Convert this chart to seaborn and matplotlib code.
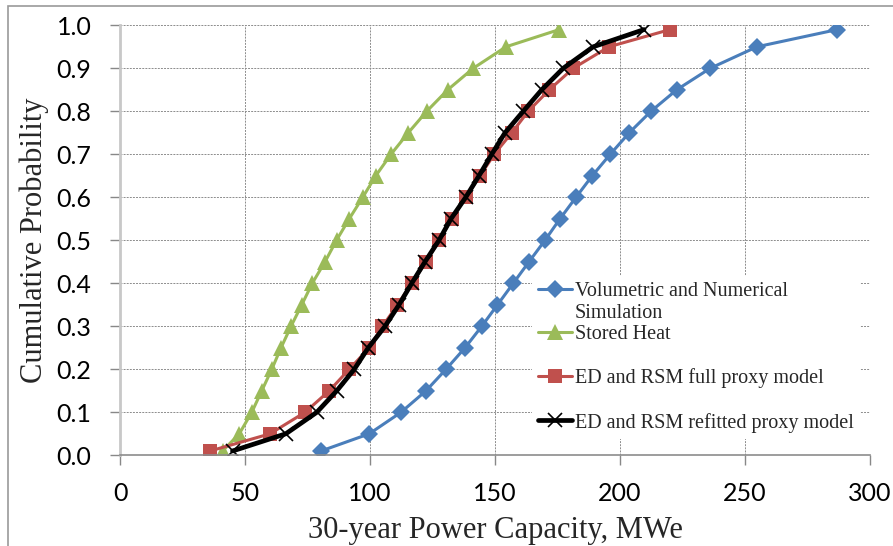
import matplotlib
matplotlib.use("Agg")
import matplotlib.pyplot as plt
import seaborn as sns
import pandas as pd
from matplotlib.patches import Rectangle

# cumulative probability levels (same for every curve)
prob = [0.01, 0.05, 0.10, 0.15, 0.20, 0.25, 0.30, 0.35, 0.40, 0.45, 0.50,
        0.55, 0.60, 0.65, 0.70, 0.75, 0.80, 0.85, 0.90, 0.95, 0.99]

# 30-year power capacity, MWe
volumetric = [80.4, 99.7, 112.4, 122.4, 130.4, 138.0, 144.7, 151.0, 157.3, 163.6, 170.0,
              176.0, 182.4, 188.9, 196.1, 203.7, 212.4, 222.7, 236.1, 254.8, 286.9]
stored_heat = [41.0, 47.7, 52.7, 56.7, 60.7, 64.4, 68.4, 72.7, 76.9, 82.0, 86.6,
               91.7, 97.1, 102.3, 108.4, 115.3, 122.7, 131.1, 141.3, 154.4, 175.7]
full_proxy = [36.0, 60.0, 74.0, 83.7, 91.7, 99.7, 105.0, 111.0, 116.7, 122.4, 127.7,
              132.7, 138.3, 144.0, 149.7, 156.7, 163.3, 171.7, 181.3, 195.6, 220.0]
refitted = [45.0, 66.3, 78.7, 86.7, 93.7, 99.3, 106.0, 111.6, 116.7, 122.0, 127.6,
            132.4, 138.3, 143.6, 148.7, 154.0, 161.3, 168.7, 177.3, 189.3, 209.6]

labels = ["Volumetric and Numerical", "Stored Heat",
          "ED and RSM full proxy model", "ED and RSM refitted proxy model"]
xticks = [0, 50, 100, 150, 200, 250, 300]
yticks = [0.0, 0.1, 0.2, 0.3, 0.4, 0.5, 0.6, 0.7, 0.8, 0.9, 1.0]

sns.set_style("white")
plt.rcParams["font.family"] = ["Lato", "DejaVu Sans"]

fig = plt.figure(figsize=(8.93, 5.46), dpi=100)
ax = fig.add_axes([0.1344, 0.1661, 0.8398, 0.7876])

# outer chart border (cropped at right / bottom like the screenshot)
fig.patches.append(Rectangle((8 / 893, -0.2), 1.2, 1.2 - 6 / 546,
                             transform=fig.transFigure, fill=False,
                             edgecolor="#9a9a9a", linewidth=1.2))

styles = [
    (volumetric, "#4a7ebb", "D", 9.5, 2.2),
    (stored_heat, "#9bbb59", "^", 11, 2.2),
    (full_proxy, "#c0504d", "s", 10, 2.2),
    (refitted, "black", "x", 10, 3.4),
]
for (xs, col, mk, ms, lw), lab in zip(styles, labels):
    df = pd.DataFrame({"x": xs, "y": prob})
    sns.lineplot(data=df, x="x", y="y", ax=ax, color=col, marker=mk, markersize=ms,
                 linewidth=lw, markeredgewidth=1.2 if mk == "x" else 0,
                 markeredgecolor=col, label=lab, sort=False, estimator=None)

ax.set_xlim(0, 300)
ax.set_ylim(0, 1.0)
ax.set_xticks(xticks)
ax.set_yticks(yticks)
ax.set_yticklabels([f"{v:.1f}" for v in yticks])
ax.tick_params(axis="both", labelsize=18, colors="#888888", length=7.5, width=1,
               direction="out", left=True, bottom=True, labelcolor="black")
ax.tick_params(axis="y", pad=13)
ax.tick_params(axis="x", pad=12)
ax.grid(True, color="#8c8c8c", linestyle=(0, (2, 1.2)), linewidth=0.7)
for s in ["top", "right"]:
    ax.spines[s].set_visible(False)
ax.spines["left"].set_color("#c8c8c8")
ax.spines["left"].set_linewidth(2)
ax.spines["bottom"].set_color("#8c8c8c")
ax.spines["bottom"].set_linewidth(1.2)

ax.set_xlabel("30-year Power Capacity, MWe", fontsize=22, family="Liberation Serif")
ax.set_ylabel("Cumulative Probability", fontsize=22, family="Liberation Serif")
ax.xaxis.set_label_coords(0.5, -0.14)
ax.yaxis.set_label_coords(-0.095, 0.5)

leg = ax.legend(loc="upper left", bbox_to_anchor=(0.549, 0.417), frameon=True,
                prop={"family": "Liberation Serif", "size": 14.5},
                handlelength=1.7, handletextpad=0.15, labelspacing=1.2,
                borderpad=0.3, borderaxespad=0)
leg.get_frame().set_facecolor("white")
leg.get_frame().set_edgecolor("none")
leg.get_frame().set_alpha(1)
# second line of the first legend label, as in the original
ax.annotate("Simulation", xy=(0, 0), xycoords=leg.texts[0], xytext=(0, -2),
            textcoords="offset points", va="top", ha="left", zorder=8,
            family="Liberation Serif", fontsize=14.5)

fig.savefig("out.png", dpi=100)
